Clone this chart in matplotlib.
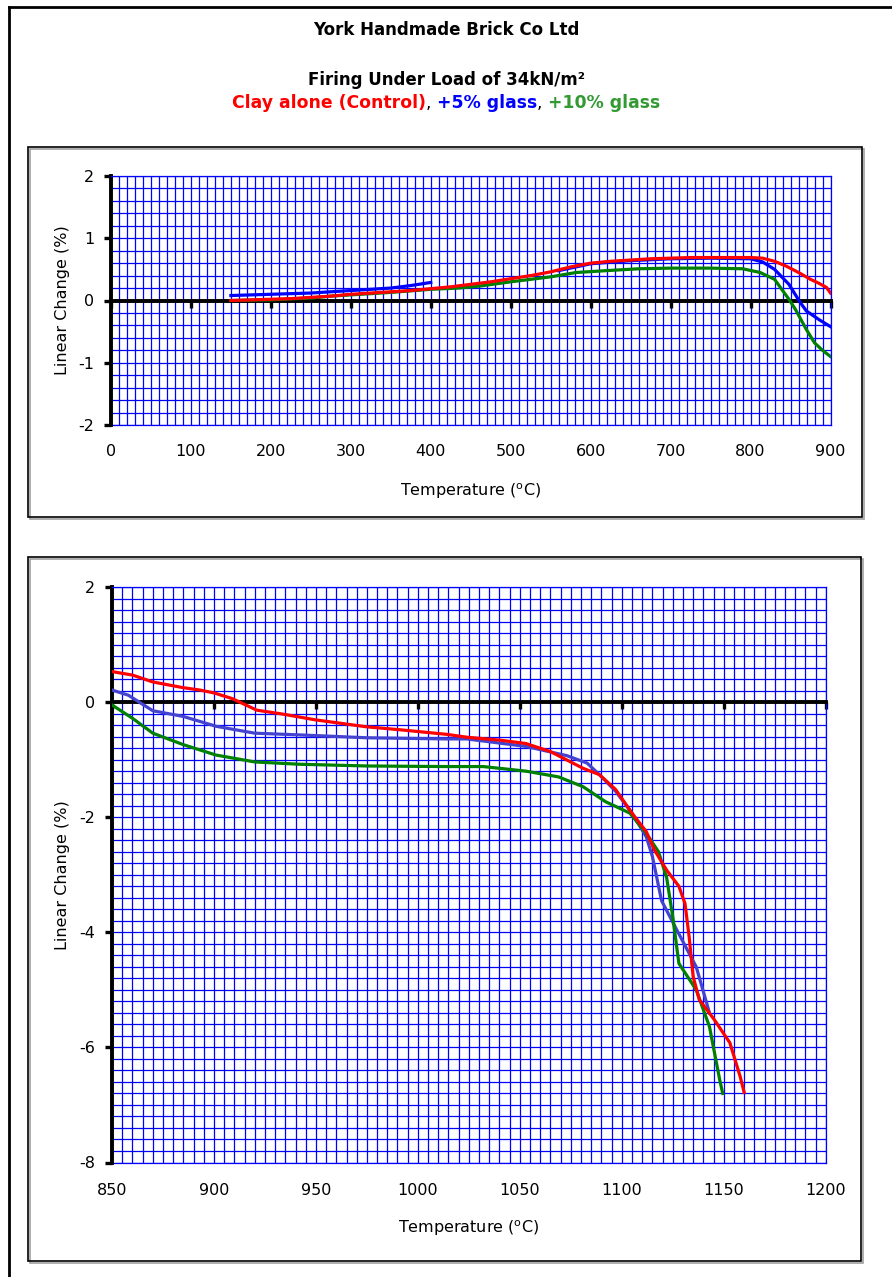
import matplotlib
matplotlib.use("Agg")
import matplotlib.pyplot as plt
import numpy as np
from matplotlib.patches import Rectangle
from matplotlib.lines import Line2D
from matplotlib.ticker import MultipleLocator, FixedLocator

plt.rcParams["font.family"] = "DejaVu Sans"
plt.rcParams["axes.unicode_minus"] = False

# ---- top chart (room temperature to 900 C)
top_red_t = [150, 175, 200, 225, 250, 275, 300, 325, 350, 375, 400, 425, 450, 475, 500,
             525, 550, 575, 600, 625, 650, 675, 700, 725, 750, 775, 800, 815, 830, 845,
             860, 875, 885, 895, 900]
top_red_v = [0.0, 0.01, 0.02, 0.03, 0.05, 0.07, 0.1, 0.12, 0.14, 0.16, 0.19, 0.22, 0.26, 0.3, 0.35,
             0.4, 0.46, 0.54, 0.6, 0.63, 0.65, 0.67, 0.68, 0.69, 0.69, 0.69, 0.69, 0.68, 0.63, 0.55,
             0.45, 0.34, 0.28, 0.21, 0.12]

top_blue_t = [150, 200, 250, 300, 350, 375, 400, None,
              560, 600, 650, 700, 750, 800, 815, 830, 848, 862, 870, 886, 900]
top_blue_v = [0.08, 0.1, 0.12, 0.16, 0.2, 0.24, 0.29, None,
              0.48, 0.59, 0.64, 0.67, 0.68, 0.67, 0.62, 0.5, 0.26, -0.03, -0.17, -0.31, -0.42]

top_green_t = [150, 200, 250, 275, 300, 350, 400, 435, 460, 500, 550, 582, 620, 661, 700,
               750, 790, 812, 830, 848, 856, 870, 880, 890, 900]
top_green_v = [0.0, 0.01, 0.04, 0.07, 0.09, 0.13, 0.18, 0.2, 0.23, 0.3, 0.38, 0.45, 0.48, 0.51, 0.52,
               0.52, 0.51, 0.45, 0.34, 0.02, -0.14, -0.47, -0.68, -0.8, -0.9]

# ---- bottom chart (850 to 1200 C)
bot_red_t = [850, 860, 870, 885, 893, 900, 909, 915, 921, 934, 950, 975, 991, 1014, 1024,
             1040, 1053, 1065, 1081, 1089, 1097, 1105, 1112, 1116, 1122, 1128, 1131, 1133,
             1135, 1138, 1145, 1153, 1158, 1160]
bot_red_v = [0.53, 0.47, 0.35, 0.25, 0.21, 0.16, 0.06, -0.04, -0.14, -0.21, -0.31, -0.43, -0.48, -0.56, -0.61,
             -0.66, -0.72, -0.86, -1.15, -1.26, -1.52, -1.93, -2.25, -2.57, -2.92, -3.2, -3.5, -4.07,
             -4.77, -5.17, -5.5, -5.92, -6.5, -6.78]

bot_blue_t = [850, 858, 870, 885, 901, 920, 942, 975, 1014, 1024, 1053, 1073, 1083, 1089, 1097,
              1105, 1112, 1115, 1119.5, 1127, 1136.5, 1143]
bot_blue_v = [0.21, 0.12, -0.15, -0.25, -0.42, -0.54, -0.57, -0.62, -0.64, -0.64, -0.77, -0.93, -1.06, -1.26, -1.55,
              -1.93, -2.34, -2.68, -3.45, -3.96, -4.6, -5.4]

bot_green_t = [850, 860, 870, 885, 901, 920, 942, 975, 1014, 1032, 1053, 1069, 1081, 1092, 1104,
               1112, 1118, 1122, 1125, 1128, 1136.5, 1143, 1148, 1149.5]
bot_green_v = [-0.05, -0.28, -0.54, -0.74, -0.92, -1.04, -1.08, -1.11, -1.12, -1.12, -1.2, -1.3, -1.47, -1.73, -1.93,
               -2.28, -2.6, -3.05, -3.73, -4.54, -5.0, -5.64, -6.56, -6.8]

top_xticks = np.arange(0, 901, 100)
bot_xticks = np.arange(850, 1201, 50)

RED, BLUE, GREEN = "#ff0000", "#0000ff", "#008000"
BLUE2 = "#4343d0"
GRID = "#0000ff"

W, H = 892, 1277
fig = plt.figure(figsize=(W / 100, H / 100), dpi=100)


def fbox(x0, y0, x1, y1):
    # pixel box (top-left origin) -> figure fraction rect
    return [x0 / W, 1 - y1 / H, (x1 - x0) / W, (y1 - y0) / H]


# outer frame (left and top edges only)
fig.add_artist(Line2D([9 / W, 9 / W], [0, 1 - 7 / H], color="black", lw=2))
fig.add_artist(Line2D([9 / W, 1], [1 - 7 / H, 1 - 7 / H], color="black", lw=2))

# chart boxes with a grey shadow
for x0, y0, x1, y1 in [(28, 147, 862, 517), (28, 557, 861, 1261)]:
    b = fbox(x0, y0, x1, y1)
    fig.add_artist(Rectangle((b[0] + 2 / W, b[1] - 2 / H), b[2], b[3], transform=fig.transFigure,
                             fill=False, ec="#a0a0a0", lw=1.2))
    fig.add_artist(Rectangle((b[0], b[1]), b[2], b[3], transform=fig.transFigure,
                             fill=False, ec="black", lw=1.2))


def setup(ax, xlim, ylim, xticks, xmin, ymaj, ymin, xl_y, yl_x, xpad):
    ax.set_xlim(xlim)
    ax.set_ylim(ylim)
    ax.xaxis.set_major_locator(FixedLocator(xticks))
    ax.xaxis.set_minor_locator(MultipleLocator(xmin))
    ax.yaxis.set_major_locator(MultipleLocator(ymaj))
    ax.yaxis.set_minor_locator(MultipleLocator(ymin))
    ax.grid(which="both", color=GRID, lw=0.9)
    ax.set_axisbelow(True)
    for s in ("top", "right"):
        ax.spines[s].set_color(GRID)
        ax.spines[s].set_linewidth(0.9)
    ax.spines["left"].set_linewidth(2.8)
    ax.spines["bottom"].set_position(("data", 0))
    ax.spines["bottom"].set_linewidth(2.8)
    ax.tick_params(axis="x", which="major", direction="out", length=5, width=2.4, labelbottom=False)
    ax.tick_params(axis="y", which="major", direction="out", length=5, width=2.4,
                   labelsize=11.5, pad=7)
    ax.tick_params(which="minor", length=0)
    sec = ax.secondary_xaxis("bottom")
    sec.xaxis.set_major_locator(FixedLocator(xticks))
    sec.xaxis.set_minor_locator(FixedLocator([]))
    sec.spines["bottom"].set_color(GRID)
    sec.spines["bottom"].set_linewidth(0.9)
    sec.tick_params(length=0, pad=xpad, labelsize=11.5)
    ax.set_xlabel(r"Temperature ($^{\rm o}$C)", fontsize=11.5)
    ax.xaxis.set_label_coords(0.5, xl_y)
    ax.set_ylabel("Linear Change (%)", fontsize=11.5)
    ax.yaxis.set_label_coords(yl_x, 0.5)


ax1 = fig.add_axes(fbox(111, 176, 830.5, 425))
setup(ax1, (0, 900), (-2, 2), top_xticks, 10, 1, 0.2, -0.225, -0.057, 14)
ax1.plot(top_blue_t, top_blue_v, color=BLUE, lw=2.3, zorder=3)
ax1.plot(top_green_t, top_green_v, color=GREEN, lw=2.3, zorder=3)
ax1.plot(top_red_t, top_red_v, color=RED, lw=2.3, zorder=3)

ax2 = fig.add_axes(fbox(112, 587, 825.7, 1162.5))
setup(ax2, (850, 1200), (-8, 2), bot_xticks, 5, 2, 0.2, -0.098, -0.059, 15)
ax2.plot(bot_blue_t, bot_blue_v, color=BLUE2, lw=2.3, zorder=3)
ax2.plot(bot_green_t, bot_green_v, color=GREEN, lw=2.3, zorder=3)
ax2.plot(bot_red_t, bot_red_v, color=RED, lw=2.3, zorder=3)

# titles
fig.text(0.5, 1 - 30 / H, "York Handmade Brick Co Ltd", ha="center", va="center",
         fontsize=12, weight="bold")
fig.text(0.5, 1 - 80 / H, "Firing Under Load of 34kN/m\u00b2", ha="center", va="center",
         fontsize=12, weight="bold")

parts = [("Clay alone (Control)", RED, "bold"), (", ", "black", "normal"),
         ("+5% glass", BLUE, "bold"), (", ", "black", "normal"),
         ("+10% glass", "#339933", "bold")]
r = fig.canvas.get_renderer()
texts = []
total = 0
for s, c, wgt in parts:
    t = fig.text(0, 1 - 103 / H, s, color=c, weight=wgt, fontsize=12.4, ha="left", va="center")
    w = t.get_window_extent(r).width
    texts.append((t, w))
    total += w
x = (W - total) / 2
for t, w in texts:
    t.set_x(x / W)
    x += w

fig.savefig("out.png", dpi=100)
